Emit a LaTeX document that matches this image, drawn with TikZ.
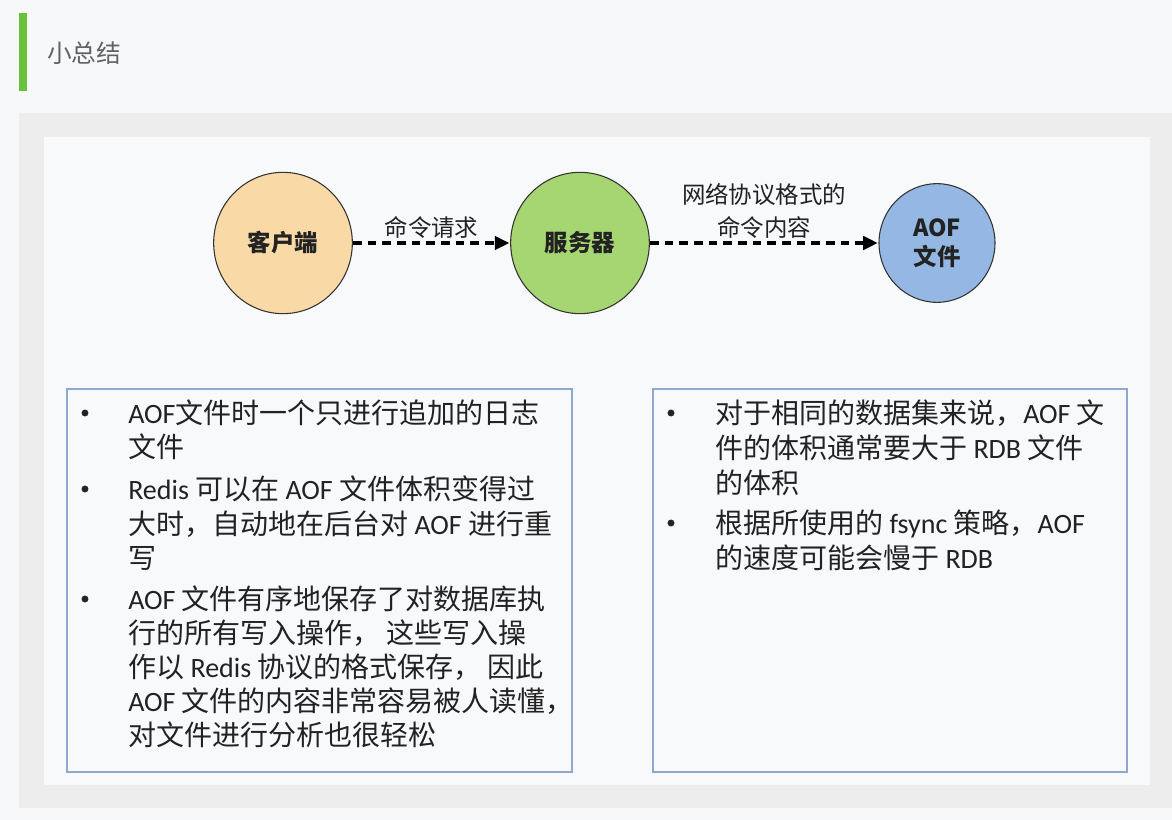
\documentclass[tikz,border=0pt]{standalone}
\usepackage{fontspec}
\setmainfont{Noto Sans CJK SC}
\newfontfamily\latfont{Carlito}
\newcommand\mylat[1]{{\latfont #1}}
\usetikzlibrary{shapes.geometric,arrows.meta}
\definecolor{pagebg}{HTML}{F7F8FA}
\definecolor{greenbar}{HTML}{67C23A}
\definecolor{titlegray}{HTML}{606266}
\definecolor{panelgray}{HTML}{EDEDED}
\definecolor{innerbg}{HTML}{F8F9FB}
\definecolor{boxline}{HTML}{8EA8CF}
\definecolor{peach}{HTML}{F9D9A6}
\definecolor{leaf}{HTML}{A6D672}
\definecolor{sky}{HTML}{94B8E3}
\definecolor{ink}{HTML}{222222}
\tikzset{
  blob/.style={ellipse, draw=black!80, line width=0.8pt, inner sep=0pt,
    font=\fontsize{17.6pt}{22pt}\selectfont\bfseries, text=ink, align=center},
  dasharrow/.style={draw=black, line width=2.6pt, dash pattern=on 6.5pt off 4.5pt,
    -{Triangle[length=11pt,width=10pt]}, shorten >=0.5pt},
  edgelabel/.style={font=\fontsize{17.6pt}{24.75pt}\selectfont, text=ink, align=center, inner sep=2pt},
  bodyline/.style={anchor=base west, inner sep=0pt, text=ink, font=\fontsize{21pt}{24.75pt}\selectfont},
  bulletdot/.style={circle, fill=ink, inner sep=0pt, minimum size=5.2pt},
  listbox/.style={draw=boxline, line width=0.9pt, fill=innerbg}
}
\begin{document}
\begin{tikzpicture}[x=0.75pt,y=-0.75pt]
\useasboundingbox (0,0) rectangle (1172,820);
\fill[pagebg] (0,0) rectangle (1172,820);
% header
\fill[greenbar] (19,13) rectangle (27,91);
\node[anchor=west, inner sep=0pt, text=titlegray, font=\fontsize{18.5pt}{20pt}\selectfont] (title) at (47,53) {小总结};
% panels
\fill[panelgray] (19,113) rectangle (1172,808);
\fill[innerbg] (44,137) rectangle (1150,785);
% diagram
\node[blob, fill=peach, minimum width=104pt, minimum height=106pt] (client) at (283,243) {客户端};
\node[blob, fill=leaf, minimum width=104pt, minimum height=106pt] (server) at (580,243) {服务器};
\node[blob, fill=sky, minimum width=87pt, minimum height=89pt] (aof) at (937,243) {AOF\\文件};
\draw[dasharrow] (client) -- node[midway, above, edgelabel] (lab1) {命令请求} (server);
\draw[dasharrow] (server) -- node[midway, above, edgelabel] (lab2) {网络协议格式的\\命令内容} (aof);
% list boxes
\draw[listbox] (67,389) rectangle (572,772);
\draw[listbox] (653,389) rectangle (1127,772);
% left bullets
\node[bulletdot] (lb1) at (85,413) {};
\node[bulletdot] (lb2) at (85,489) {};
\node[bulletdot] (lb3) at (85,599) {};
\node[bodyline] (L1) at (128,423) {\mylat{AOF}文件时一个只进行追加的日志};
\node[bodyline] (L2) at (128,457) {文件};
\node[bodyline] (L3) at (128,499) {\mylat{Redis} 可以在 \mylat{AOF} 文件体积变得过};
\node[bodyline] (L4) at (128,534) {大时，自动地在后台对 \mylat{AOF} 进行重};
\node[bodyline] (L5) at (128,568) {写};
\node[bodyline] (L6) at (128,609) {\mylat{AOF} 文件有序地保存了对数据库执};
\node[bodyline] (L7) at (128,643) {行的所有写入操作， 这些写入操};
\node[bodyline] (L8) at (128,677) {作以 \mylat{Redis} 协议的格式保存， 因此};
\node[bodyline] (L9) at (128,711) {\mylat{AOF} 文件的内容非常容易被人读懂，};
\node[bodyline] (L10) at (128,745) {对文件进行分析也很轻松};
% right bullets
\node[bulletdot] (rb1) at (671,413) {};
\node[bulletdot] (rb2) at (671,523) {};
\node[bodyline] (R1) at (715,423) {对于相同的数据集来说，\mylat{AOF} 文};
\node[bodyline] (R2) at (715,458) {件的体积通常要大于 \mylat{RDB} 文件};
\node[bodyline] (R3) at (715,493) {的体积};
\node[bodyline] (R4) at (715,533) {根据所使用的 \mylat{fsync} 策略，\mylat{AOF}};
\node[bodyline] (R5) at (715,568) {的速度可能会慢于 \mylat{RDB}};
\end{tikzpicture}
\end{document}
